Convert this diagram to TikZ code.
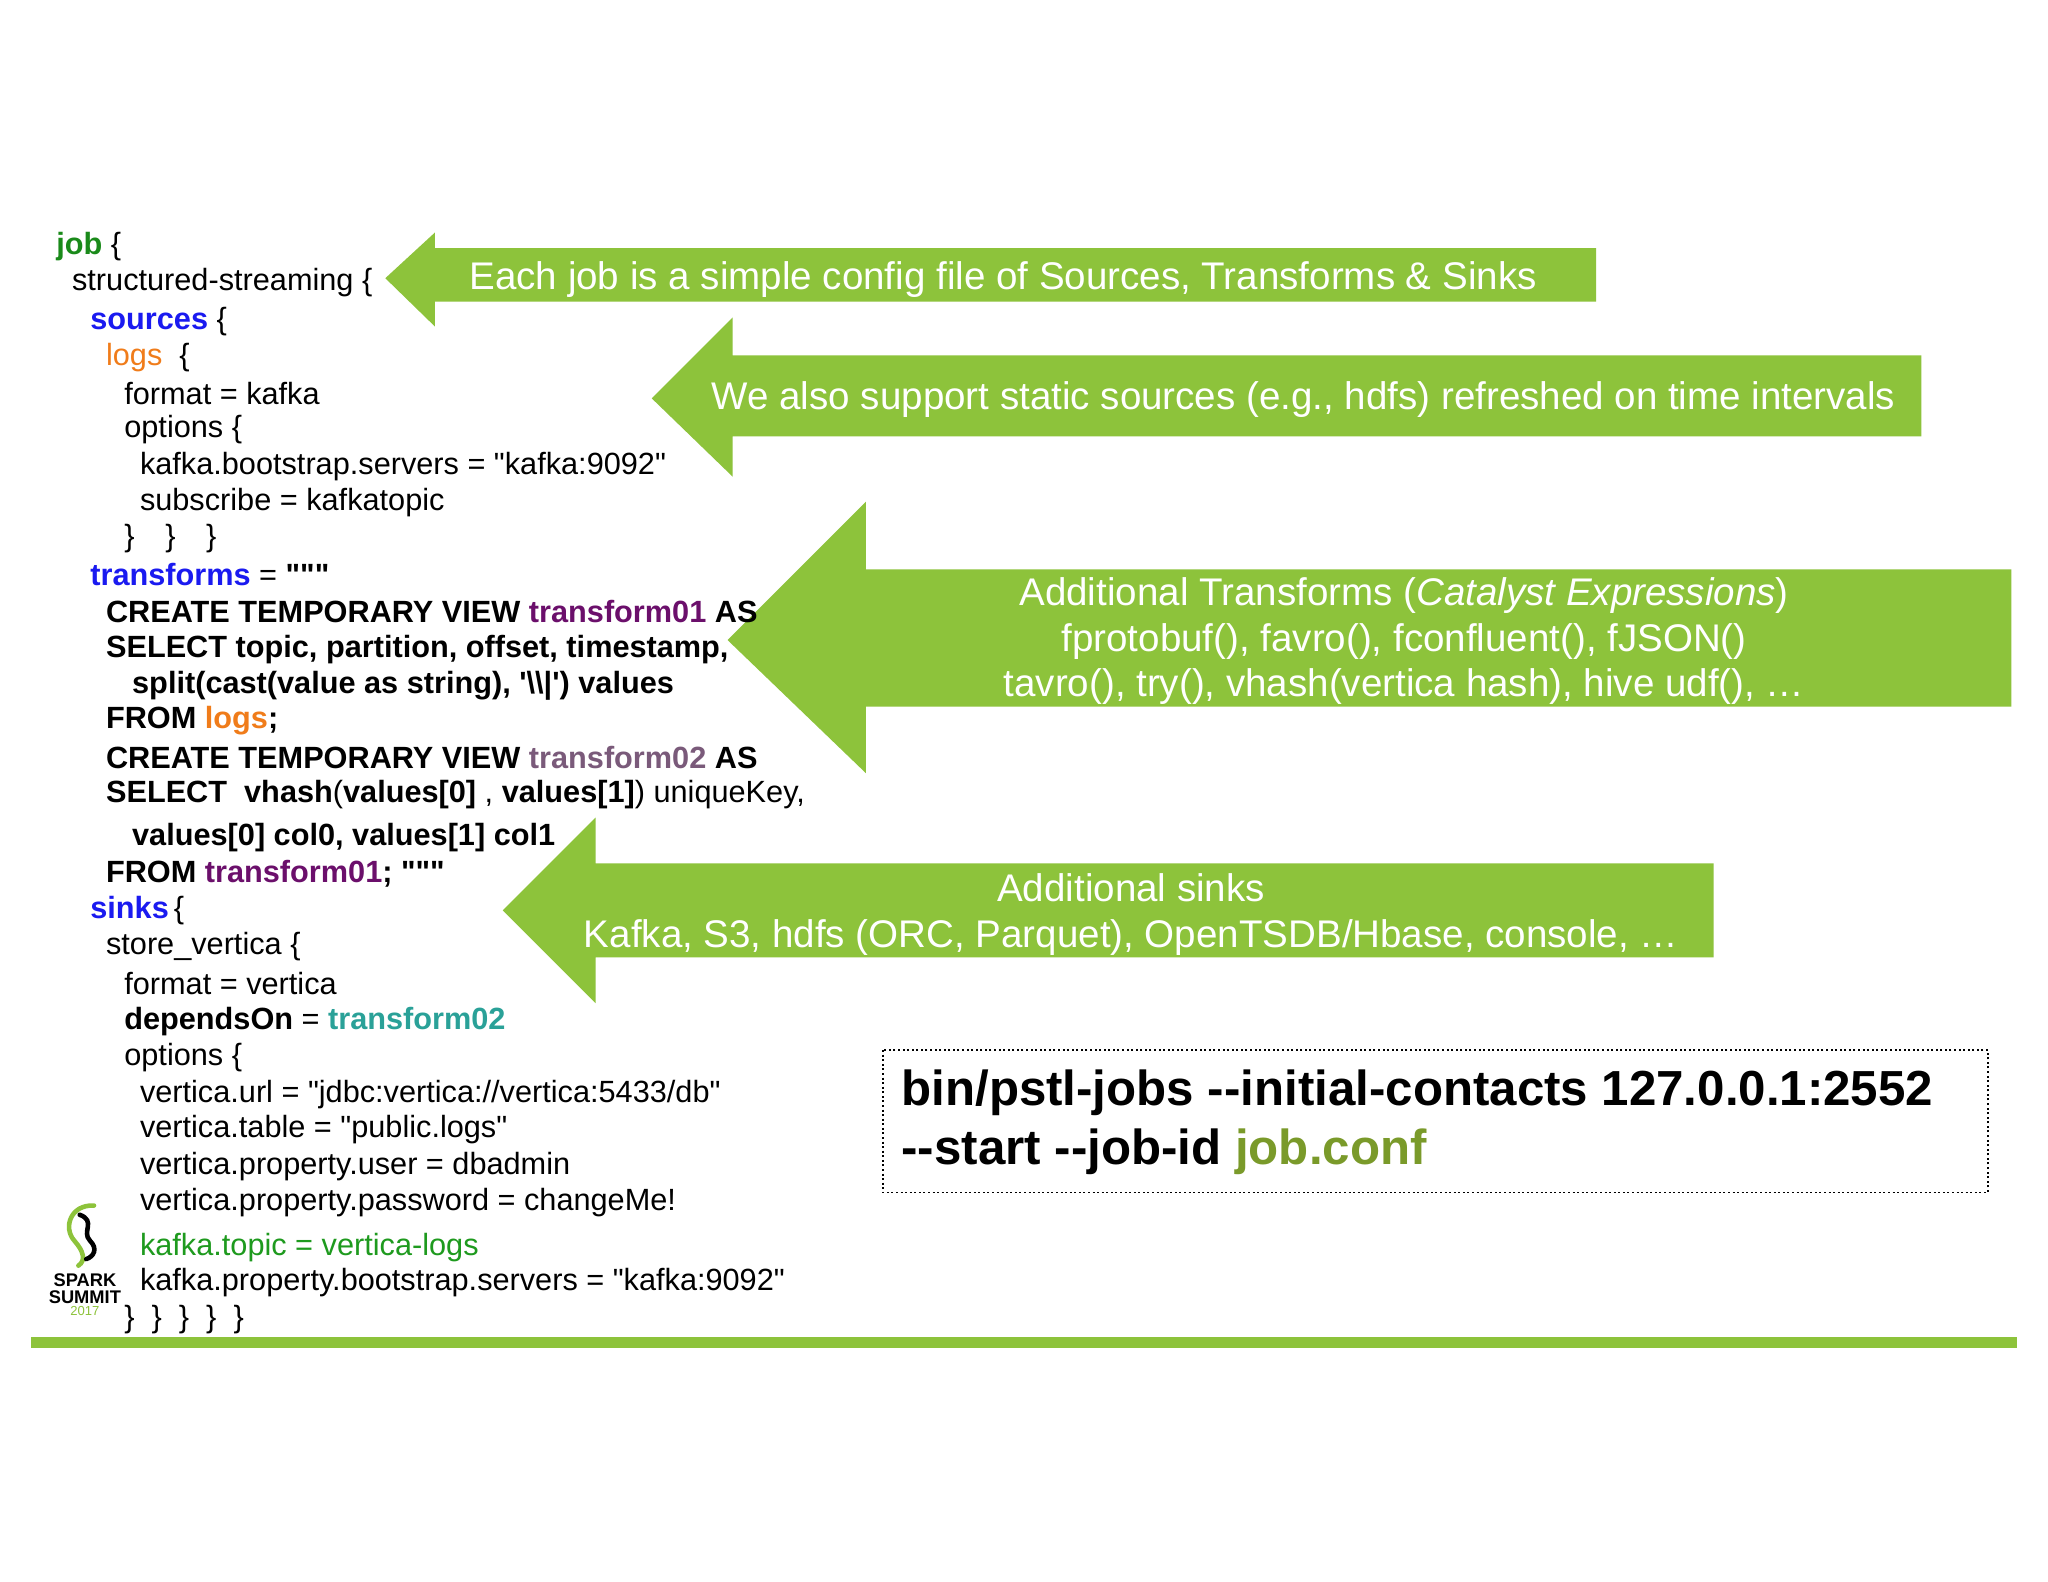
\documentclass[tikz,border=0pt]{standalone}
\usepackage{fontspec}
\setmainfont{Liberation Sans}[Ligatures=TeXOff]
\definecolor{ag}{HTML}{8DC33B}
\definecolor{jobg}{HTML}{1A8A1A}
\definecolor{srcb}{HTML}{1A1AF0}
\definecolor{logo}{HTML}{F07C1A}
\definecolor{tpa}{HTML}{6B0F6B}
\definecolor{tpb}{HTML}{7A5A7A}
\definecolor{teal}{HTML}{2AA198}
\definecolor{kg}{HTML}{1E9A1E}
\definecolor{olive}{HTML}{7A9A2A}
\newcommand{\dq}{"}
\begin{document}
\begin{tikzpicture}[x=1pt,y=-1pt,
  code/.style={anchor=west,inner sep=0pt,font=\fontsize{23.5}{24}\selectfont},
  atext/.style={text=white,inner sep=0pt,font=\fontsize{29.5}{35}\selectfont,align=center},
  arrowshape/.style={fill=ag,draw=none}]
\useasboundingbox (0,0) rectangle (1568,1211);
\fill[white] (0,0) rectangle (1568,1211);
% arrows
\fill[arrowshape] (295,213) -- (333,178) -- (333,190) -- (1222,190) -- (1222,231) -- (333,231) -- (333,250) -- cycle;
\fill[arrowshape] (499,305) -- (561,243) -- (561,272) -- (1471,272) -- (1471,334) -- (561,334) -- (561,365) -- cycle;
\fill[arrowshape] (557,490) -- (663,384) -- (663,436) -- (1540,436) -- (1540,541) -- (663,541) -- (663,592) -- cycle;
\fill[arrowshape] (385,697) -- (456,626) -- (456,661) -- (1312,661) -- (1312,733) -- (456,733) -- (456,768) -- cycle;
\node[atext] (t1) at (768,214) {Each job is a simple config file of Sources, Transforms \& Sinks};
\node[atext] (t2) at (998,306) {We also support static sources (e.g., hdfs) refreshed on time intervals};
\node[atext] (t3) at (1075,491) {Additional Transforms (\textit{Catalyst Expressions})\\fprotobuf(), favro(), fconfluent(), fJSON()\\tavro(), try(), vhash(vertica hash), hive udf(), \dots};
\node[atext] (t4) at (866,700) {Additional sinks\\Kafka, S3, hdfs (ORC, Parquet), OpenTSDB/Hbase, console, \dots};
% code
\node[code] (l1) at (43,189) {\textbf{\color{jobg}job} \{};
\node[code] (l2) at (55,216) {structured-streaming \{};
\node[code] (l3) at (69,246) {\textbf{\color{srcb}sources} \{};
\node[code] (l4) at (81,274) {{\color{logo}logs} \ \{};
\node[code] (l5) at (95,301) {format = kafka};
\node[code] (l6) at (95,329) {options \{};
\node[code] (l7) at (107,357) {kafka.bootstrap.servers = \dq kafka:9092\dq};
\node[code] (l8) at (107,385) {subscribe = kafkatopic};
\node[code] (l9) at (95,412) {\}\quad\}\quad\}};
\node[code] (l10) at (69,440) {\textbf{\color{srcb}transforms} = \textbf{\dq\dq\dq}};
\node[code] (l11) at (81,468) {\textbf{CREATE TEMPORARY VIEW {\color{tpa}transform01} AS}};
\node[code] (l12) at (81,497) {\textbf{SELECT topic, partition, offset, timestamp,}};
\node[code] (l13) at (101,525) {\textbf{split(cast(value as string), '\textbackslash\textbackslash|') values}};
\node[code] (l14) at (81,552) {\textbf{FROM {\color{logo}logs};}};
\node[code] (l15) at (81,580) {\textbf{CREATE TEMPORARY VIEW {\color{tpb}transform02} AS}};
\node[code] (l16) at (81,608) {\textbf{SELECT\ \ vhash}(\textbf{values[0]} , \textbf{values[1]}) uniqueKey,};
\node[code] (l17) at (101,641) {\textbf{values[0] col0, values[1] col1}};
\node[code] (l18) at (81,669) {\textbf{FROM {\color{tpa}transform01}; \dq\dq\dq}};
\node[code] (l19) at (69,697) {\textbf{\color{srcb}sinks}\,\{};
\node[code] (l20) at (81,725) {store\_vertica \{};
\node[code] (l21) at (95,753) {format = vertica};
\node[code] (l22) at (95,782) {\textbf{dependsOn} = \textbf{\color{teal}transform02}};
\node[code] (l23) at (95,810) {options \{};
\node[code] (l24) at (107,838) {vertica.url = \dq jdbc:vertica://vertica:5433/db\dq};
\node[code] (l25) at (107,865) {vertica.table = \dq public.logs\dq};
\node[code] (l26) at (107,893) {vertica.property.user = dbadmin};
\node[code] (l27) at (107,921) {vertica.property.password = changeMe!};
\node[code] (l28) at (107,955) {\color{kg}kafka.topic = vertica-logs};
\node[code] (l29) at (107,982) {kafka.property.bootstrap.servers = \dq kafka:9092\dq};
\node[code] (l30) at (95,1010) {\}\ \ \}\ \ \}\ \ \}\ \ \}};
% bottom bar
\fill[ag] (24,1024) rectangle (1544,1032);
% command box
\draw[dotted,line width=1.5pt] (676,804) rectangle (1522,913);
\node[anchor=west,inner sep=0pt,font=\fontsize{37.7}{40}\selectfont\bfseries] (c1) at (690,837) {bin/pstl-jobs --initial-contacts 127.0.0.1:2552};
\node[anchor=west,inner sep=0pt,font=\fontsize{37.7}{40}\selectfont\bfseries] (c2) at (690,882) {--start --job-id {\color{olive}job.conf}};
% logo
\draw[ag,line width=3.5pt,line cap=round] (72,923) .. controls (54,922) and (48,940) .. (57,950) .. controls (64,958) and (66,965) .. (60,969);
\draw[black,line width=3.5pt,line cap=round] (61,930) .. controls (74,935) and (62,943) .. (69,950) .. controls (75,956) and (72,962) .. (66,964);
\node[inner sep=0pt,font=\fontsize{14}{13}\selectfont\bfseries,align=center] (lg) at (65,987) {SPARK\\SUMMIT};
\node[inner sep=0pt,font=\fontsize{10}{10}\selectfont,text=ag] (yr) at (65,1004) {2017};
\end{tikzpicture}
\end{document}
